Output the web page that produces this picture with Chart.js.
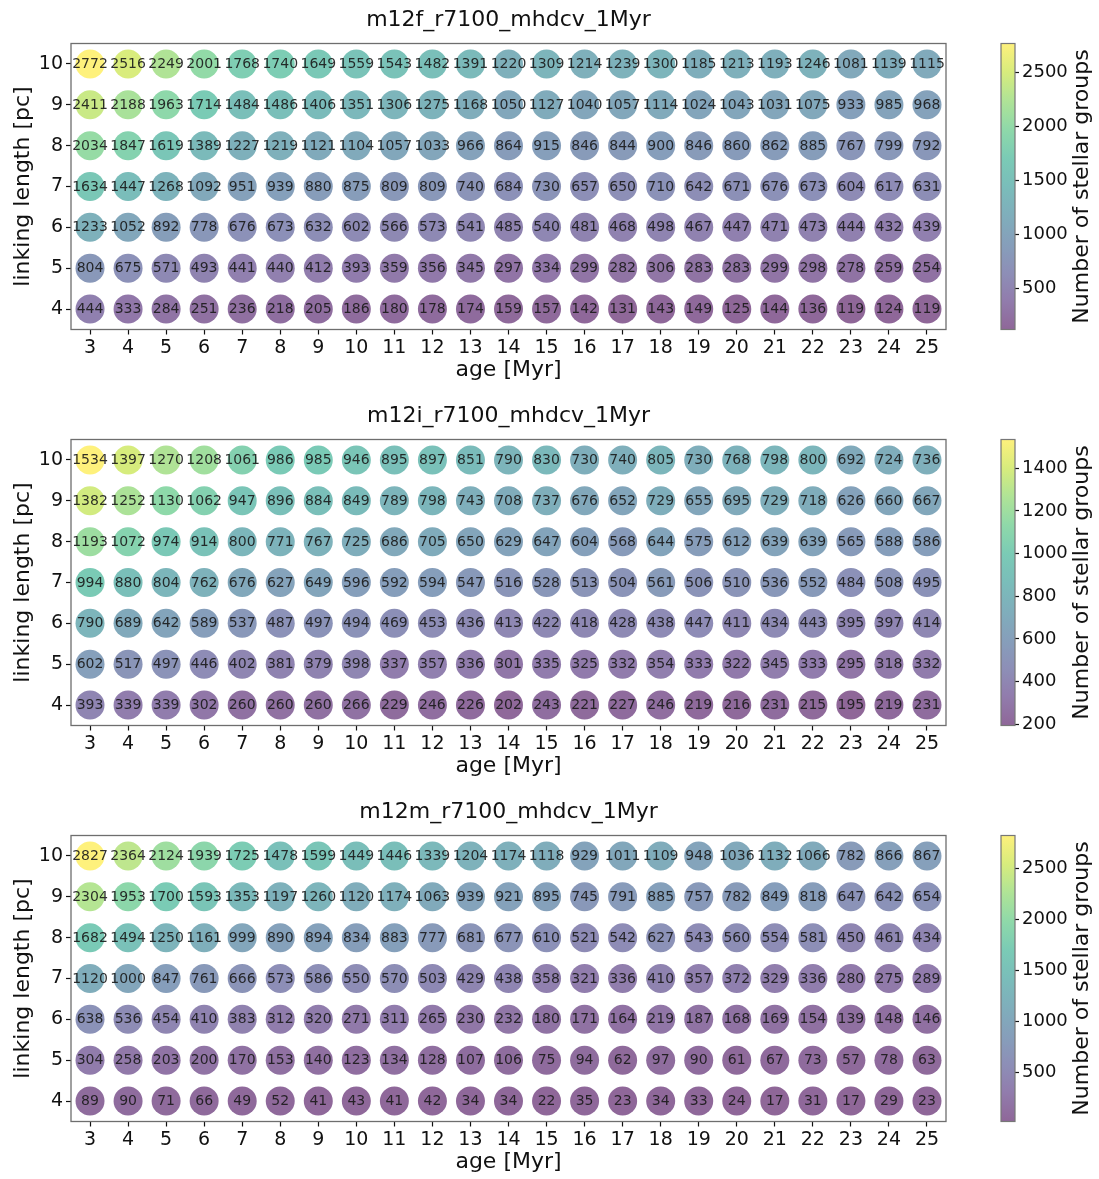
<!DOCTYPE html>
<html>
<head>
<meta charset="utf-8">
<title>Number of stellar groups vs age and linking length</title>
<script src="https://cdn.jsdelivr.net/npm/chart.js@4.4.1/dist/chart.umd.min.js"></script>
<style>
  html, body { margin: 0; padding: 0; background: #ffffff; }
  #page { position: relative; width: 1099px; height: 1179px; overflow: hidden; }
  .panel { position: absolute; left: 0; width: 1099px; height: 396px; }
  .panel canvas { position: absolute; top: 0; }
</style>
</head>
<body>
<div id="page"></div>
<script>
// ---- data -------------------------------------------------------------
const ages = [3, 4, 5, 6, 7, 8, 9, 10, 11, 12, 13, 14, 15, 16, 17, 18, 19, 20, 21, 22, 23, 24, 25];
// rows listed from the top of each panel (10 pc) down to the bottom (4 pc)
const linkingLengths = [10, 9, 8, 7, 6, 5, 4];
const yTickValues = [4, 5, 6, 7, 8, 9, 10];

const panelTitles = ['m12f_r7100_mhdcv_1Myr', 'm12i_r7100_mhdcv_1Myr', 'm12m_r7100_mhdcv_1Myr'];

const m12fCounts = [
  [2772, 2516, 2249, 2001, 1768, 1740, 1649, 1559, 1543, 1482, 1391, 1220, 1309, 1214, 1239, 1300, 1185, 1213, 1193, 1246, 1081, 1139, 1115],
  [2411, 2188, 1963, 1714, 1484, 1486, 1406, 1351, 1306, 1275, 1168, 1050, 1127, 1040, 1057, 1114, 1024, 1043, 1031, 1075, 933, 985, 968],
  [2034, 1847, 1619, 1389, 1227, 1219, 1121, 1104, 1057, 1033, 966, 864, 915, 846, 844, 900, 846, 860, 862, 885, 767, 799, 792],
  [1634, 1447, 1268, 1092, 951, 939, 880, 875, 809, 809, 740, 684, 730, 657, 650, 710, 642, 671, 676, 673, 604, 617, 631],
  [1233, 1052, 892, 778, 676, 673, 632, 602, 566, 573, 541, 485, 540, 481, 468, 498, 467, 447, 471, 473, 444, 432, 439],
  [804, 675, 571, 493, 441, 440, 412, 393, 359, 356, 345, 297, 334, 299, 282, 306, 283, 283, 299, 298, 278, 259, 254],
  [444, 333, 284, 251, 236, 218, 205, 186, 180, 178, 174, 159, 157, 142, 131, 143, 149, 125, 144, 136, 119, 124, 119]
];

const m12iCounts = [
  [1534, 1397, 1270, 1208, 1061, 986, 985, 946, 895, 897, 851, 790, 830, 730, 740, 805, 730, 768, 798, 800, 692, 724, 736],
  [1382, 1252, 1130, 1062, 947, 896, 884, 849, 789, 798, 743, 708, 737, 676, 652, 729, 655, 695, 729, 718, 626, 660, 667],
  [1193, 1072, 974, 914, 800, 771, 767, 725, 686, 705, 650, 629, 647, 604, 568, 644, 575, 612, 639, 639, 565, 588, 586],
  [994, 880, 804, 762, 676, 627, 649, 596, 592, 594, 547, 516, 528, 513, 504, 561, 506, 510, 536, 552, 484, 508, 495],
  [790, 689, 642, 589, 537, 487, 497, 494, 469, 453, 436, 413, 422, 418, 428, 438, 447, 411, 434, 443, 395, 397, 414],
  [602, 517, 497, 446, 402, 381, 379, 398, 337, 357, 336, 301, 335, 325, 332, 354, 333, 322, 345, 333, 295, 318, 332],
  [393, 339, 339, 302, 260, 260, 260, 266, 229, 246, 226, 202, 243, 221, 227, 246, 219, 216, 231, 215, 195, 219, 231]
];

const m12mCounts = [
  [2827, 2364, 2124, 1939, 1725, 1478, 1599, 1449, 1446, 1339, 1204, 1174, 1118, 929, 1011, 1109, 948, 1036, 1132, 1066, 782, 866, 867],
  [2304, 1953, 1700, 1593, 1353, 1197, 1260, 1120, 1174, 1063, 939, 921, 895, 745, 791, 885, 757, 782, 849, 818, 647, 642, 654],
  [1682, 1494, 1250, 1161, 999, 890, 894, 834, 883, 777, 681, 677, 610, 521, 542, 627, 543, 560, 554, 581, 450, 461, 434],
  [1120, 1000, 847, 761, 666, 573, 586, 550, 570, 503, 429, 438, 358, 321, 336, 410, 357, 372, 329, 336, 280, 275, 289],
  [638, 536, 454, 410, 383, 312, 320, 271, 311, 265, 230, 232, 180, 171, 164, 219, 187, 168, 169, 154, 139, 148, 146],
  [304, 258, 203, 200, 170, 153, 140, 123, 134, 128, 107, 106, 75, 94, 62, 97, 90, 61, 67, 73, 57, 78, 63],
  [89, 90, 71, 66, 49, 52, 41, 43, 41, 42, 34, 34, 22, 35, 23, 34, 33, 24, 17, 31, 17, 29, 23]
];

const colorbarTicks = [
  [500, 1000, 1500, 2000, 2500],
  [200, 400, 600, 800, 1000, 1200, 1400],
  [500, 1000, 1500, 2000, 2500]
];

// ---- styling ------------------------------------------------------------
const FONT = '"DejaVu Sans", "Liberation Sans", sans-serif';
const INK = '#111111';
const MARKER_ALPHA = 0.6;
const VIRIDIS = ['#440154', '#482475', '#414487', '#355f8d', '#2a788e', '#21918c',
                 '#22a884', '#44bf70', '#7ad151', '#bddf26', '#fde725'];

Chart.defaults.font.family = FONT;
Chart.defaults.color = INK;

function hexToRgb(h) {
  return [parseInt(h.slice(1, 3), 16), parseInt(h.slice(3, 5), 16), parseInt(h.slice(5, 7), 16)];
}
const VIRIDIS_RGB = VIRIDIS.map(hexToRgb);

function viridis(t, alpha) {
  t = Math.min(1, Math.max(0, t));
  const pos = t * (VIRIDIS_RGB.length - 1);
  const i = Math.min(VIRIDIS_RGB.length - 2, Math.floor(pos));
  const f = pos - i;
  const a = VIRIDIS_RGB[i], b = VIRIDIS_RGB[i + 1];
  const c = a.map((v, k) => Math.round(v + (b[k] - v) * f));
  return `rgba(${c[0]},${c[1]},${c[2]},${alpha})`;
}

// ---- layout (pixels inside each 396px tall panel) -------------------------
const PANEL_H = 396;
const MAIN_W = 990;
const CB_W = 109;
const AREA_TOP = 43.5;
const AREA_BOTTOM = 329.5;
const AREA_LEFT = 71;
const AREA_RIGHT = 946;

// frame round the plotting area (all four spines)
const framePlugin = {
  id: 'frame',
  afterDraw(chart, args, opts) {
    const { ctx, chartArea: a } = chart;
    ctx.save();
    ctx.strokeStyle = opts.color || '#666';
    ctx.lineWidth = opts.width || 1.3;
    ctx.strokeRect(a.left, a.top, a.right - a.left, a.bottom - a.top);
    ctx.restore();
  }
};

// count written in the middle of every circle
const valueLabelPlugin = {
  id: 'valueLabels',
  afterDatasetsDraw(chart) {
    const { ctx } = chart;
    const meta = chart.getDatasetMeta(0);
    const pts = chart.data.datasets[0].data;
    ctx.save();
    ctx.font = `14px ${FONT}`;
    ctx.fillStyle = 'rgba(25,25,25,0.9)';
    ctx.textAlign = 'center';
    ctx.textBaseline = 'middle';
    meta.data.forEach((el, i) => {
      ctx.fillText(String(pts[i].count), el.x, el.y + 0.5);
    });
    ctx.restore();
  }
};

// gradient bar + rotated label of the colour bar
const colorbarPlugin = {
  id: 'colorbar',
  beforeDatasetsDraw(chart) {
    const { ctx, chartArea: a } = chart;
    const g = ctx.createLinearGradient(0, a.bottom, 0, a.top);
    for (let k = 0; k <= 50; k++) {
      g.addColorStop(k / 50, viridis(k / 50, MARKER_ALPHA));
    }
    ctx.save();
    ctx.fillStyle = g;
    ctx.fillRect(a.left, a.top, a.right - a.left, a.bottom - a.top);
    ctx.strokeStyle = '#777';
    ctx.lineWidth = 1.2;
    ctx.strokeRect(a.left, a.top, a.right - a.left, a.bottom - a.top);
    ctx.restore();
  },
  afterDraw(chart, args, opts) {
    const { ctx, chartArea: a } = chart;
    ctx.save();
    ctx.translate(opts.labelX, (a.top + a.bottom) / 2);
    ctx.rotate(-Math.PI / 2);
    ctx.font = `22px ${FONT}`;
    ctx.fillStyle = INK;
    ctx.textAlign = 'center';
    ctx.textBaseline = 'middle';
    ctx.fillText(opts.text, 0, 0);
    ctx.restore();
  }
};

function makeCanvas(parent, left, width) {
  const c = document.createElement('canvas');
  c.width = width;
  c.height = PANEL_H;
  c.style.left = left + 'px';
  c.style.width = width + 'px';
  c.style.height = PANEL_H + 'px';
  parent.appendChild(c);
  return c;
}

function buildPanel(index, title, counts, cbTicks) {
  const panel = document.createElement('div');
  panel.className = 'panel';
  panel.style.top = (index * PANEL_H) + 'px';
  document.getElementById('page').appendChild(panel);

  const flat = counts.flat();
  const vmin = Math.min(...flat);
  const vmax = Math.max(...flat);

  const points = [];
  const colors = [];
  linkingLengths.forEach((L, r) => {
    ages.forEach((age, c) => {
      const n = counts[r][c];
      points.push({ x: age, y: L, count: n });
      colors.push(viridis((n - vmin) / (vmax - vmin), MARKER_ALPHA));
    });
  });

  // main scatter of circles
  new Chart(makeCanvas(panel, 0, MAIN_W), {
    type: 'scatter',
    data: {
      datasets: [{
        data: points,
        backgroundColor: colors,
        borderWidth: 0,
        pointRadius: 14.5,
        pointHoverRadius: 14.5
      }]
    },
    options: {
      responsive: false,
      animation: false,
      events: [],
      layout: { padding: { left: 0, right: MAIN_W - AREA_RIGHT, top: 0, bottom: 0 } },
      plugins: {
        legend: { display: false },
        tooltip: { enabled: false },
        title: {
          display: true,
          text: title,
          fullSize: false,
          color: INK,
          font: { size: 22, weight: 'normal', family: FONT },
          padding: { top: 7, bottom: AREA_TOP - 7 - 26.4 }
        },
        frame: { color: '#6e6e6e', width: 1.3 }
      },
      scales: {
        x: {
          type: 'linear',
          min: 2.5,
          max: 25.5,
          afterBuildTicks: s => { s.ticks = ages.map(v => ({ value: v })); },
          afterFit: s => { s.height = PANEL_H - AREA_BOTTOM; s.paddingLeft = 0; s.paddingRight = 0; },
          border: { display: false },
          grid: { drawOnChartArea: false, drawTicks: true, tickLength: 5, tickWidth: 1.2, tickColor: INK },
          ticks: { font: { size: 19 }, color: INK, padding: 2, maxRotation: 0, autoSkip: false, callback: v => String(v) },
          title: { display: true, text: 'age [Myr]', color: INK, font: { size: 22 }, padding: { top: 0, bottom: 13 } }
        },
        y: {
          type: 'linear',
          min: 3.5,
          max: 10.5,
          afterBuildTicks: s => { s.ticks = yTickValues.map(v => ({ value: v })); },
          afterFit: s => { s.width = AREA_LEFT; s.paddingTop = 0; s.paddingBottom = 0; },
          border: { display: false },
          grid: { drawOnChartArea: false, drawTicks: true, tickLength: 5, tickWidth: 1.2, tickColor: INK },
          ticks: { font: { size: 19 }, color: INK, padding: 3, autoSkip: false, callback: v => String(v) },
          title: { display: true, text: 'linking length [pc]', color: INK, font: { size: 22 }, padding: { top: 10, bottom: 0 } }
        }
      }
    },
    plugins: [framePlugin, valueLabelPlugin]
  });

  // colour bar
  new Chart(makeCanvas(panel, MAIN_W, CB_W), {
    type: 'scatter',
    data: { datasets: [{ data: [] }] },
    options: {
      responsive: false,
      animation: false,
      events: [],
      layout: { padding: { left: 11, right: 0, top: AREA_TOP, bottom: PANEL_H - AREA_BOTTOM } },
      plugins: {
        legend: { display: false },
        tooltip: { enabled: false },
        colorbar: { text: 'Number of stellar groups', labelX: 92 }
      },
      scales: {
        x: { display: false, min: 0, max: 1 },
        y: {
          type: 'linear',
          position: 'right',
          min: vmin,
          max: vmax,
          afterBuildTicks: s => { s.ticks = cbTicks.map(v => ({ value: v })); },
          afterFit: s => { s.width = CB_W - 25; s.paddingTop = 0; s.paddingBottom = 0; },
          border: { display: false },
          grid: { drawOnChartArea: false, drawTicks: true, tickLength: 4, tickWidth: 1.2, tickColor: INK },
          ticks: { font: { size: 18 }, color: INK, padding: 3, autoSkip: false, callback: v => String(v) }
        }
      }
    },
    plugins: [colorbarPlugin]
  });
}

buildPanel(0, panelTitles[0], m12fCounts, colorbarTicks[0]);
buildPanel(1, panelTitles[1], m12iCounts, colorbarTicks[1]);
buildPanel(2, panelTitles[2], m12mCounts, colorbarTicks[2]);
</script>
</body>
</html>
